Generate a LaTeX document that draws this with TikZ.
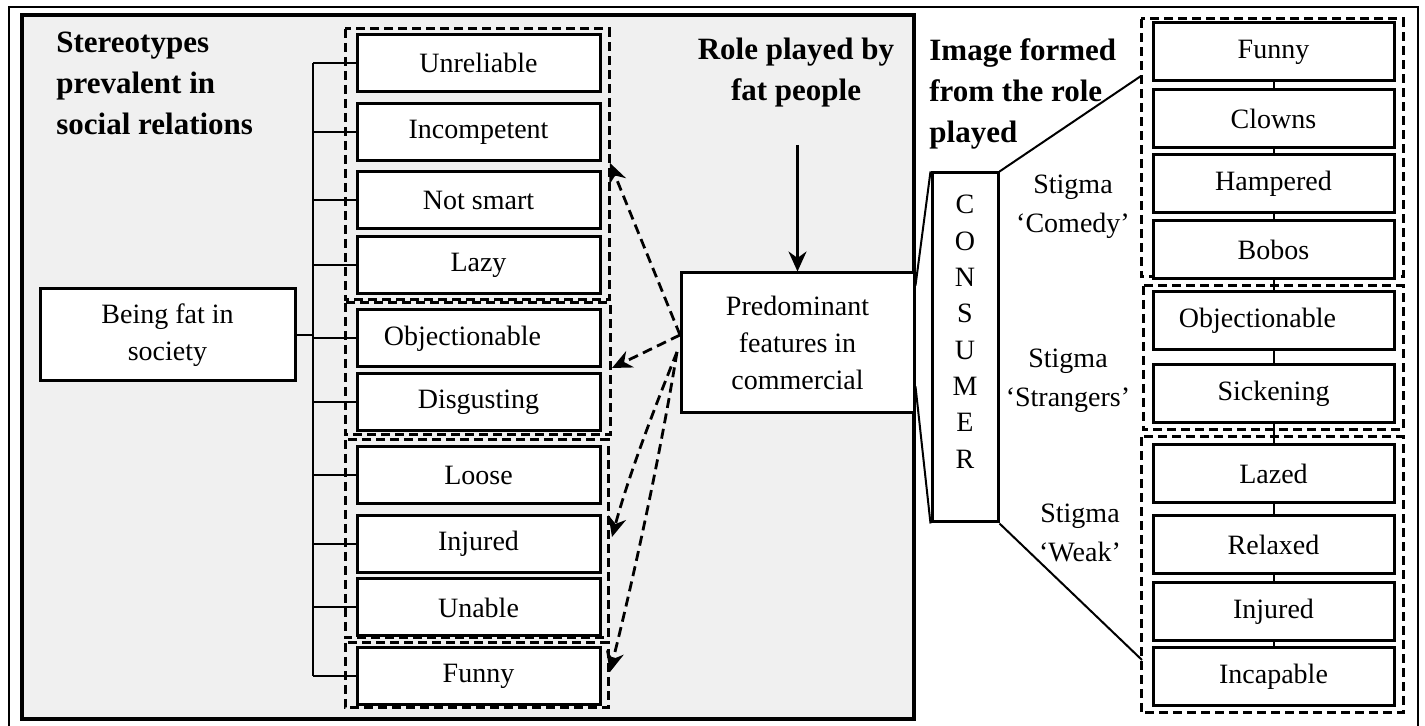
\documentclass[tikz,border=0pt]{standalone}
\usepackage{fontspec}
\setmainfont{Liberation Serif}
\usetikzlibrary{arrows.meta,calc}
\definecolor{panelgray}{HTML}{F0F0F0}
\begin{document}
\begin{tikzpicture}[x=0.5pt,y=-0.5pt,
  box/.style={draw, line width=1.5pt, fill=white, inner sep=0pt, minimum width=121.5pt, minimum height=28.5pt, font=\fontsize{14}{18.3}\selectfont, align=center},
  rbox/.style={box, minimum width=120.5pt, minimum height=29pt},
  grp/.style={draw, line width=1.5pt, dash pattern=on 4.5pt off 2.5pt},
  conn/.style={line width=1pt},
  darr/.style={line width=1.4pt, dash pattern=on 5pt off 2.8pt, -{Stealth[length=10pt,width=9pt]}},
  title/.style={font=\fontsize{15.5}{20.5}\selectfont\bfseries, inner sep=0pt},
  lbl/.style={font=\fontsize{14}{19.5}\selectfont, inner sep=0pt, align=center}]

\useasboundingbox (0,0) rectangle (1425,726);

% outer frame and grey panel
\draw[line width=1.1pt] (9,727) -- (9,7) -- (1418,7) -- (1418,727);
\draw[line width=1.6pt, fill=panelgray] (22,15) rectangle (914,719);

% titles
\node[title, anchor=north west, align=left] (tst) at (56,32) {Stereotypes\\prevalent in\\social relations};
\node[title, anchor=north, align=center] (trole) at (796,38) {Role played by\\fat people};
\node[title, anchor=north west, align=left] (timg) at (929,38) {Image formed\\from the role\\played};

% left dashed groups
\draw[grp] (345,29) rectangle (609,300);
\draw[grp] (345,303) rectangle (610,435);
\draw[grp] (345,440) rectangle (608,638);
\draw[grp] (345,643) rectangle (608,708);

% left boxes
\node[box] (l1) at (478.5,63) {Unreliable};
\node[box] (l2) at (478.5,132) {Incompetent};
\node[box] (l3) at (478.5,200) {Not smart};
\node[box] (l4) at (478.5,265) {Lazy};
\node[box] (l5) at (478.5,338.5) {Objectionable\hspace*{16pt}};
\node[box] (l6) at (478.5,402.5) {Disgusting};
\node[box] (l7) at (478.5,475) {Loose};
\node[box] (l8) at (478.5,544) {Injured};
\node[box] (l9) at (478.5,607.5) {Unable};
\node[box] (l10) at (478.5,676.5) {Funny};

\node[box, minimum width=127.5pt, minimum height=46pt] (fat) at (167.5,335) {Being fat in\\society};

% bracket
\coordinate (bx) at (313,0);
\draw[conn] (bx |- l1.west) -- (bx |- l10.west);
\foreach \i in {1,...,10} { \draw[conn] (bx |- l\i.west) -- (l\i.west); }
\draw[conn] (fat.east) -- (bx |- fat.east);

% predominant features
\node[box, minimum width=116.5pt, minimum height=70pt] (pred) at (797.5,343) {Predominant\\features in\\commercial};
\coordinate (ra) at (797.5,145);
\draw[line width=1.3pt, -{Stealth[length=10pt,width=9pt]}] (ra) -- (pred.north);

% dashed arrows
\coordinate (s1) at (680,335);
\coordinate (s3) at (677,352);
\coordinate (a1) at (610,163);
\coordinate (a2) at (612,368);
\coordinate (a3) at (612,537);
\coordinate (a4) at (610,672);
\draw[darr] (s1) -- (a1);
\draw[darr] (s1) -- (a2);
\draw[darr] (s3) .. controls (652,414) and (628,478) .. (a3);
\draw[darr] (s3) .. controls (661,450) and (636,568) .. (a4);

% consumer
\node[draw, line width=1.5pt, fill=white, minimum width=33pt, minimum height=174.5pt, inner sep=0pt] (cons) at (965,347.5) {};
\node[lbl, font=\fontsize{14}{18.15}\selectfont, anchor=north] (consl) at (965,195) {C\\O\\N\\S\\U\\M\\E\\R};
\draw[conn] ($(pred.north east)+(0,14)$) -- (cons.north west);
\draw[conn] ($(pred.south east)+(0,-28)$) -- (cons.south west);
\coordinate (c1) at (1141,76);
\coordinate (c2) at (1142,660);
\draw[conn] (cons.north east) -- (c1);
\draw[conn] (cons.south east) -- (c2);

% stigma labels
\node[lbl, anchor=north] (sg1) at (1073,175) {Stigma\\‘Comedy’};
\node[lbl, anchor=north] (sg2) at (1068,349) {Stigma\\‘Strangers’};
\node[lbl, anchor=north] (sg3) at (1080,504) {Stigma\\‘Weak’};

% right dashed groups
\draw[grp] (1141,19) rectangle (1403,277);
\draw[grp] (1143,286) rectangle (1403,430);
\draw[grp] (1141,437) rectangle (1403,713);

% right boxes
\node[rbox] (r1) at (1273.5,52) {Funny};
\node[rbox] (r2) at (1273.5,118.5) {Clowns};
\node[rbox] (r3) at (1273.5,183.5) {Hampered};
\node[rbox] (r4) at (1273.5,249.5) {Bobos};
\node[rbox] (r5) at (1273.5,321) {Objectionable\hspace*{16pt}};
\node[rbox] (r6) at (1273.5,393.5) {Sickening};
\node[rbox] (r7) at (1273.5,473.5) {Lazed};
\node[rbox] (r8) at (1273.5,545) {Relaxed};
\node[rbox] (r9) at (1273.5,611.5) {Injured};
\node[rbox] (r10) at (1273.5,677) {Incapable};
\foreach \i/\j in {1/2,2/3,3/4,4/5,5/6,6/7,7/8,8/9,9/10} { \draw[conn] (r\i.south) -- (r\j.north); }

\end{tikzpicture}
\end{document}
